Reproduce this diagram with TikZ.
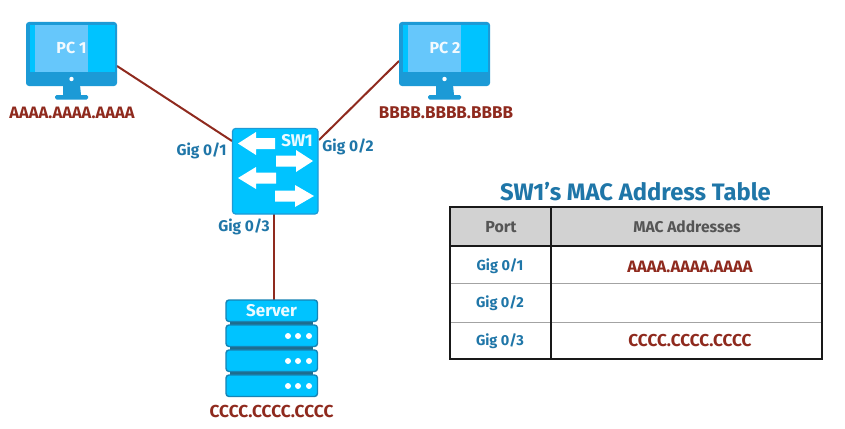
\documentclass[tikz,border=0pt]{standalone}
\usepackage{fontspec}
\setmainfont{Fira Sans}
\definecolor{frameblue}{HTML}{1C9AD6}
\definecolor{screencyan}{HTML}{00C3FF}
\definecolor{panelblue}{HTML}{66C7FB}
\definecolor{darkedge}{HTML}{1784B5}
\definecolor{gapdark}{HTML}{1F6C8C}
\definecolor{labelblue}{HTML}{1F76A8}
\definecolor{macred}{HTML}{8F2A1E}
\definecolor{headgrey}{HTML}{D2D2D2}
\definecolor{headtext}{HTML}{555555}
\definecolor{rowline}{HTML}{A3A3A3}
\newcommand{\fsz}[1]{\fontsize{#1}{#1}\selectfont}
\tikzset{
  x=1pt,y=-1pt,
  link/.style={draw=macred,line width=2pt},
  iconlabel/.style={text=white,font=\bfseries,opacity=.92,inner sep=0pt},
  maclabel/.style={text=macred,font=\fontseries{sb}\selectfont,inner sep=0pt},
  portlabel/.style={text=labelblue,font=\fontseries{sb}\selectfont,inner sep=0pt},
  headlabel/.style={text=headtext,font=\bfseries,inner sep=0pt},
  titlelabel/.style={text=labelblue,font=\fontseries{sb}\selectfont,inner sep=0pt},
  whitearrow/.style={fill=white,draw=none},
  serverrow/.style={fill=screencyan,draw=darkedge,line width=1.4pt,rounded corners=3pt},
  tableframe/.style={draw=black!90,line width=1.7pt},
}
\newcommand{\monitor}[1]{%
  \fill[frameblue,rounded corners=3pt] (#1+26,22) rectangle (#1+117,86);
  \fill[screencyan] (#1+30,25.5) rectangle (#1+115,72);
  \fill[panelblue] (#1+35,25.5) rectangle (#1+88,72);
  \fill[frameblue] (#1+63,85) -- (#1+80,85) -- (#1+81,95) -- (#1+63,95) -- cycle;
  \fill[frameblue,rounded corners=1.5pt] (#1+55,95) rectangle (#1+88,99.5);
  \fill[white] (#1+71.5,79) circle (2.2);
}
\begin{document}
\begin{tikzpicture}
\useasboundingbox (0,0) rectangle (845,428);
\fill[white] (0,0) rectangle (845,428);
% anchors of the connectors
\coordinate (pc1port) at (117,66);
\coordinate (pc2port) at (399,61);
\coordinate (swa) at (232,141);
\coordinate (swb) at (319,140);
\coordinate (swc) at (274,214);
\coordinate (srvtop) at (274,300);
\draw[link] (pc1port) -- (swa);
\draw[link] (pc2port) -- (swb);
\draw[link] (swc) -- (srvtop);
% PCs
\monitor{0}
\monitor{373}
\node[iconlabel] (pc1) at (71.5,48) {\fsz{16}PC 1};
\node[iconlabel] (pc2) at (445,48) {\fsz{16}PC 2};
% switch
\fill[screencyan,draw=frameblue,line width=1.2pt,rounded corners=3pt] (232.5,128.5) rectangle (318,214);
\fill[whitearrow] (238,143.5) -- (256,132) -- (256,138) -- (275,138) -- (275,149) -- (256,149) -- (256,155) -- cycle;
\fill[whitearrow] (313,161) -- (296,150) -- (296,155.5) -- (276,155.5) -- (276,166.5) -- (296,166.5) -- (296,172) -- cycle;
\fill[whitearrow] (238,178) -- (256,167) -- (256,172.5) -- (276,172.5) -- (276,183.5) -- (256,183.5) -- (256,189) -- cycle;
\fill[whitearrow] (314,196) -- (295,185) -- (295,190.5) -- (275,190.5) -- (275,201.5) -- (295,201.5) -- (295,207) -- cycle;
\node[iconlabel] (sw1) at (297,141) {\fsz{17}SW1};
% server
\fill[gapdark] (230,318) rectangle (313,380);
\foreach \ytop in {375,350,325,300}{
  \draw[serverrow] (226,\ytop) rectangle (317.5,\ytop+21.5);
}
\foreach \ytop in {325,350,375}{
  \foreach \xdot in {288,298,309}{
    \fill[white] (\xdot,\ytop+11) circle (3);
  }
}
\node[iconlabel] (srv) at (271.5,311) {\fsz{17}Server};
% labels
\node[maclabel] (maca) at (72,113) {\fsz{16.5}AAAA.AAAA.AAAA};
\node[maclabel] (macb) at (446,113) {\fsz{17}BBBB.BBBB.BBBB};
\node[maclabel] (macc) at (271.5,411) {\fsz{17.3}CCCC.CCCC.CCCC};
\node[portlabel] (g1) at (201.5,151) {\fsz{15.5}Gig 0/1};
\node[portlabel] (g2) at (348,147) {\fsz{15.5}Gig 0/2};
\node[portlabel] (g3) at (244,227) {\fsz{15.5}Gig 0/3};
% table
\node[titlelabel] (title) at (635.5,192) {\fsz{23.8}SW1’s MAC Address Table};
\fill[headgrey] (450,207) rectangle (822,246);
\draw[rowline,line width=1pt] (450,283.5) -- (822,283.5) (450,322) -- (822,322);
\draw[tableframe] (450,246) -- (822,246);
\draw[tableframe] (551,207) -- (551,359);
\draw[tableframe] (450,207) rectangle (822,359);
\node[headlabel] (hport) at (501,227) {\fsz{16}Port};
\node[headlabel] (hmac) at (687,227) {\fsz{15.6}MAC Addresses};
\node[portlabel] (r1) at (500,266) {\fsz{14.5}Gig 0/1};
\node[portlabel] (r2) at (500,303) {\fsz{14.5}Gig 0/2};
\node[portlabel] (r3) at (500,341) {\fsz{14.5}Gig 0/3};
\node[maclabel] (m1) at (690,267) {\fsz{16.5}AAAA.AAAA.AAAA};
\node[maclabel] (m3) at (690,341) {\fsz{17.2}CCCC.CCCC.CCCC};
\end{tikzpicture}
\end{document}
